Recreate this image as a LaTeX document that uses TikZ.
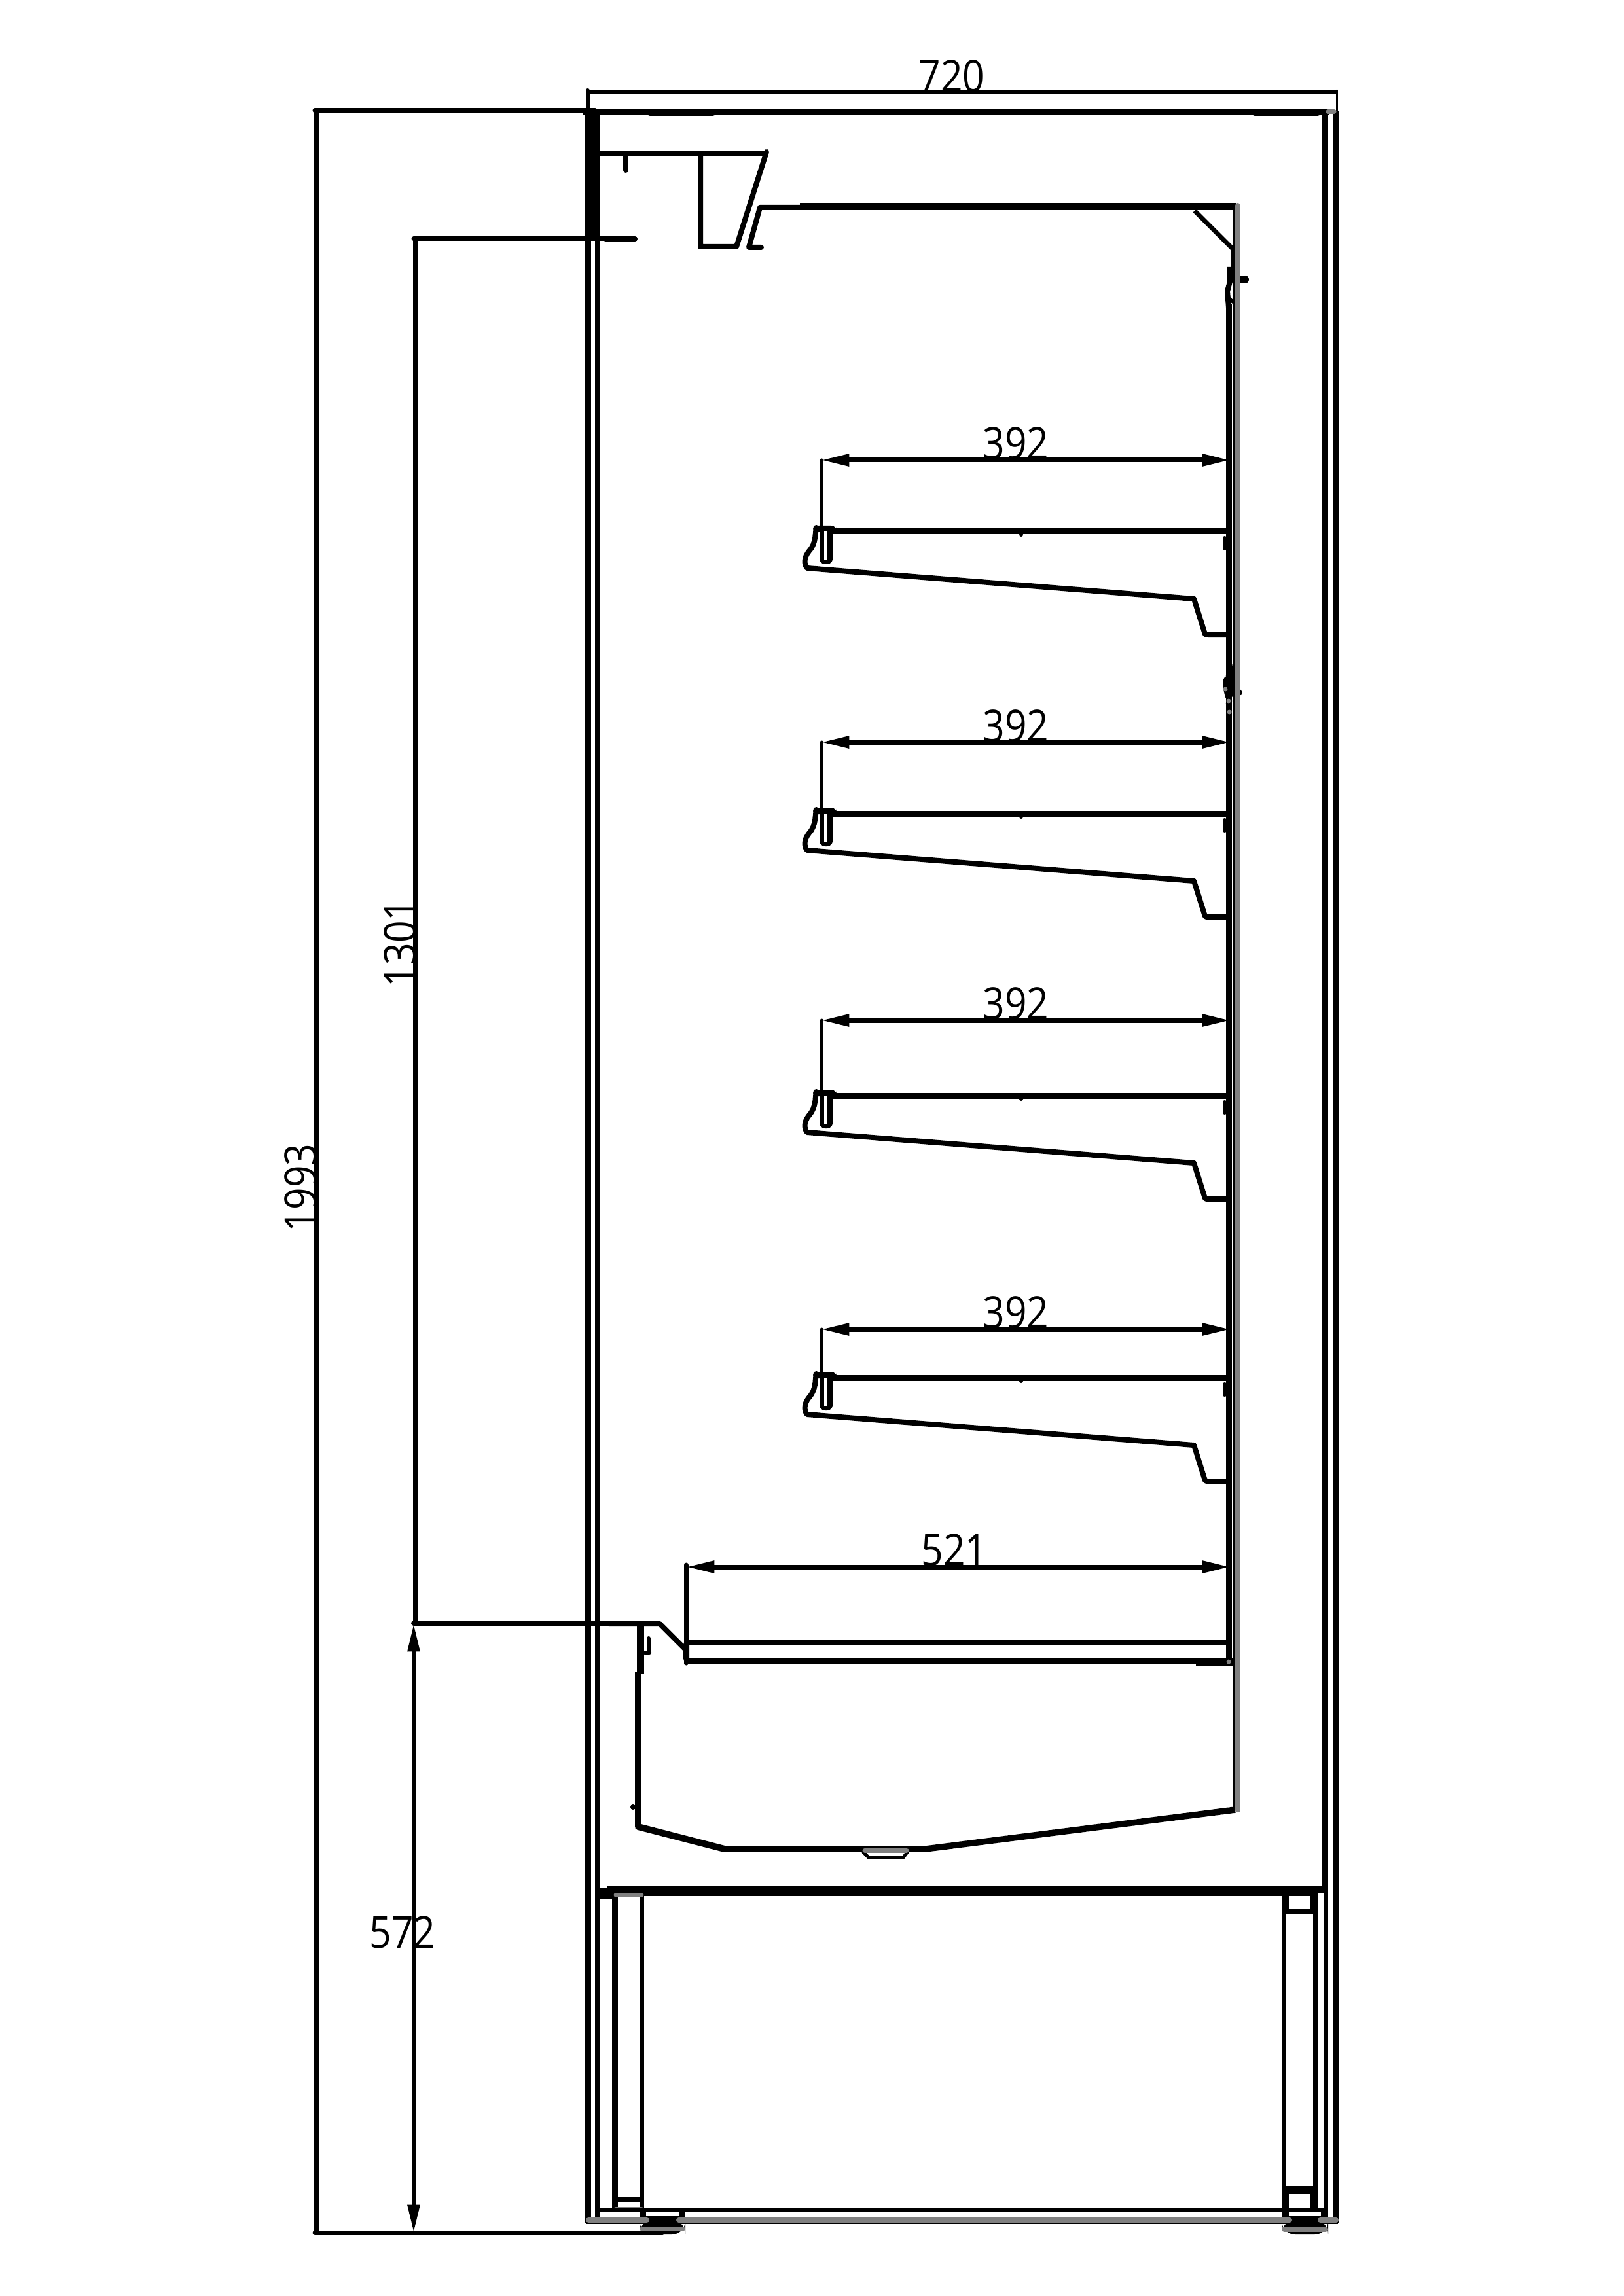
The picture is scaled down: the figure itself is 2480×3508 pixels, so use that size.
\documentclass[tikz,border=0pt]{standalone}
\usepackage{fontspec}
\setmainfont[FakeStretch=0.87]{Open Sans}
\usetikzlibrary{arrows.meta}
\definecolor{gr}{gray}{0.5}
\tikzset{
  lw/.style={line width=#1*0.24pt},
  ink/.style={draw=black,lw=#1,line cap=round,line join=round},
  ink/.default=8,
  butt/.style={draw=black,lw=#1,line cap=butt,line join=miter},
  gbar/.style={draw=gr,lw=#1,line cap=round},
  gbar/.default=7,
  dimarrow/.style={butt=7,{Stealth[length=10.4pt,width=4.2pt,inset=0pt]}-{Stealth[length=10.4pt,width=4.2pt,inset=0pt]}},
  dimtext/.style={font=\fontsize{16.2}{18}\selectfont,inner sep=0pt,text=black}
}
\newcommand{\shelfunit}[1]{%
  \begin{scope}[yshift=#1*-0.24pt]
    \draw[butt=9] (1273,812) -- (1874,812);
    \fill (1560,817) circle (3);
    \fill[rounded corners=2] (1242,803) rectangle (1278,813);
    \fill[rounded corners=2] (1252,805) rectangle (1272,862);
    \fill[white] (1259,812) rectangle (1264,855);
    \draw[ink=8] (1247,806) .. controls (1245,815) and (1247,830) .. (1236,842)
       .. controls (1228,852) and (1228,862) .. (1233,868)
       -- (1824,915) -- (1840,966) .. controls (1841,970) and (1842,970) .. (1845,970) -- (1874,970);
    \draw[ink=6] (1871,822) -- (1871,838);
  \end{scope}}
\newcommand{\dimunit}[4]{%
  \coordinate (#4l) at (1254,#1);
  \coordinate (#4r) at (1880,#1);
  \draw[ink=5] (1255,#1) -- (1255,#3);
  \draw[dimarrow] (#4l) -- (#4r);
  \node[dimtext] (#4t) at (1552,#2) {392};}
\begin{document}
\begin{tikzpicture}[x=0.24pt,y=-0.24pt]
\useasboundingbox (0,0) rectangle (2480,3508);
% top frame
\draw[butt=7] (895,140.5) -- (2042,140.5);
\draw[ink=6] (897.5,138) -- (897.5,170);
\draw[ink=3] (2042.5,138) -- (2042.5,170);
\draw[butt=9] (890,170.5) -- (2030,170.5);
\draw[ink=7] (993,174) -- (1089,174);
\draw[ink=7] (1917,174) -- (2013,174);
% walls
\fill (894,170) rectangle (908.5,365);
\draw[butt=9] (898.5,365) -- (898.5,3396);
\draw[butt=8.5] (913,175) -- (913,3387);
\draw[butt=9] (2024.5,170) -- (2024.5,3396);
\draw[butt=9] (2040.5,170) -- (2040.5,3396);
\draw[gbar=7] (2029,170.5) -- (2038,170.5);
% top profile
\draw[ink=8] (913,235) -- (1168,235);
\draw[ink=8] (1171,232) -- (1125,377) -- (1070,377) -- (1070,235);
\draw[ink=8] (956,235) -- (956,260);
\draw[ink=8] (925,365) -- (970,365);
% canopy
\draw[ink=8] (1163,378) -- (1144,378) -- (1161,317) -- (1225,317);
\draw[butt=11] (1222,315.5) -- (1888,315.5);
\draw[butt=7] (1825,322) -- (1883,380);
\draw[butt=4] (1885,316) -- (1885,2765);
\draw[butt=7] (1884,378) -- (1884,410);
\draw[butt=8] (1879,408) -- (1879,430) -- (1875,445) -- (1877,470);
\draw[butt=5] (1877,455) -- (1884,462);
\draw[butt=9] (1877.5,465) -- (1877.5,2540);
\fill (1885,421) rectangle (1900,433);
\fill (1902,427) circle (6);
% joint on the back panel
\fill[rounded corners=2] (1868,1033) -- (1880,1033) -- (1880,1018) -- (1886,1012) -- (1886,1062) -- (1880,1062) -- (1880,1072) -- (1875,1074) -- (1869,1056) -- cycle;
\fill (1882,1055) rectangle (1893,1062);
\fill (1893,1058) circle (5);
% shelves
\shelfunit{0}
\shelfunit{431}
\shelfunit{862}
\shelfunit{1293}
\dimunit{703}{677}{806}{sa}
\dimunit{1134}{1109}{1237}{sb}
\dimunit{1559}{1533}{1668}{sc}
\dimunit{2031}{2005}{2099}{sd}
% gray liner and dots
\draw[gbar=8] (1891,314) -- (1891,2765);
\fill[gr] (1872,1053) circle (3.5) (1877,1071) circle (3.5) (1878,1088) circle (3.5);
% bottom shelf
\draw[ink=7] (1048,2391) -- (1048,2541);
\coordinate (bl) at (1048,2394);
\coordinate (br) at (1880,2394);
\draw[dimarrow] (bl) -- (br);
\node[dimtext] (t521) at (1458,2368) {521};
\draw[butt=8.5] (1048,2509) -- (1875,2509);
\draw[butt=8.5] (1045,2537.5) -- (1885,2537.5);
\fill[rounded corners=2] (1044,2505) rectangle (1053,2542);
\draw[ink=4] (1067,2541) -- (1080,2541);
\fill (1827,2537) rectangle (1885,2545);
\fill[gr] (1877,2539) circle (3.5);
% front of the tank
\draw[ink=8] (930,2481) -- (1008,2481) -- (1048,2521);
\draw[butt=11] (978,2481) -- (978,2557);
\draw[butt=10] (975,2555) -- (975,2791);
\fill (967,2761) circle (4);
\draw[ink=6] (985,2525) -- (992,2525) -- (991,2503);
\draw[ink=10] (975,2791) -- (1107,2825);
\draw[butt=10] (1107,2825) -- (1414,2825);
\draw[ink=9.5,line cap=butt] (1414,2825) -- (1887,2765);
\draw[gbar=8] (1891,2700) -- (1891,2765);
% drain
\draw[ink=5] (1319,2830) -- (1327,2838) -- (1380,2838) -- (1386,2830);
\draw[gbar=7] (1321,2827) -- (1385,2827);
% deck
\fill (927,2882) rectangle (2021,2897);
\fill (909,2884) rectangle (935,2902);
% left pillar
\draw[butt=9] (939.5,2897) -- (939.5,3373);
\draw[butt=7.5] (980.5,2897) -- (980.5,3373);
\draw[butt=8] (944,3360) -- (977,3360);
\draw[gbar=7] (941,2895) -- (980,2895);
\draw[gbar=7] (941,3375) -- (980,3375);
% right pillar
\fill (1958,2897) rectangle (2013,3373);
\fill[white] (1969,2897) rectangle (2002,2917);
\fill[white] (1965,2925) rectangle (2006,3340);
\fill[white] (1969,3352) rectangle (2002,3373);
\fill[white] (2013,2892) rectangle (2021.5,3373);
% bottom rail and feet
\draw[butt=7] (909,3376.5) -- (2021,3376.5);
\fill (977,3376) rectangle (987,3396);
\fill (1037,3376) rectangle (1047,3396);
\fill (987,3386) rectangle (1037,3396);
\fill (1958,3376) rectangle (2029,3396);
\fill[white] (1969,3380) rectangle (2018,3386);
\draw[butt=2] (895,3396.5) -- (2044,3396.5);
\fill[rounded corners=5] (977,3392) rectangle (1047,3414);
\fill[rounded corners=5] (1958,3392) rectangle (2029,3414);
\draw[gbar=8] (899,3392) -- (988,3392);
\draw[gbar=8] (1037,3392) -- (1970,3392);
\draw[gbar=8] (2017,3392) -- (2041,3392);
\draw[gbar=7] (981,3405) -- (1043,3405);
\draw[gbar=8] (1962,3406) -- (2025,3406);
% dimension frame
\draw[ink=7] (481,169) -- (909,169);
\draw[butt=7] (483,169) -- (483,3411);
\draw[ink=7] (481,3411) -- (1012,3411);
\draw[butt=7] (634,365) -- (634,2480);
\draw[ink=7] (632,365) -- (925,365);
\draw[ink=8] (632,2480) -- (935,2480);
\coordinate (dA) at (632,2480);
\coordinate (dB) at (632,3412);
\draw[dimarrow] (dA) -- (dB);
\node[dimtext,rotate=90] (t1993) at (459,1815) {1993};
\node[dimtext,rotate=90] (t1301) at (611,1441) {1301};
\node[dimtext] (t572) at (615,2952) {572};
\node[dimtext] (t720) at (1454,116) {720};
\end{tikzpicture}
\end{document}
